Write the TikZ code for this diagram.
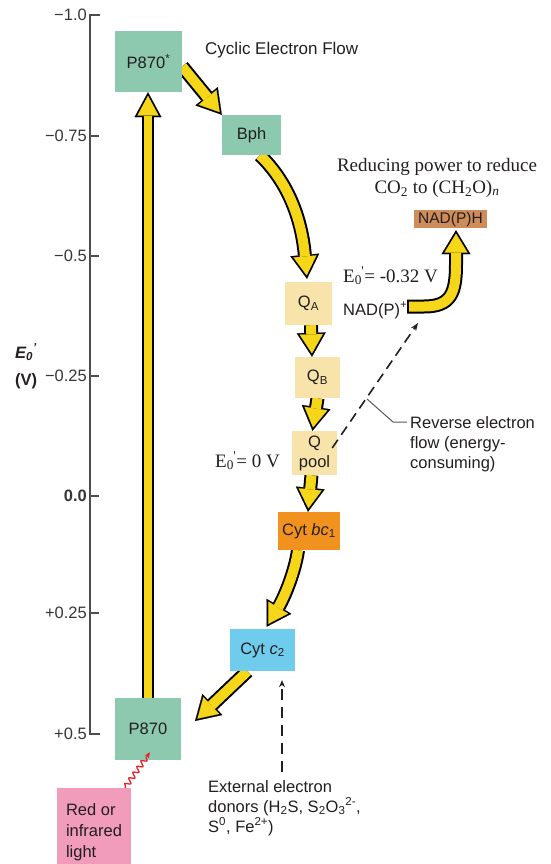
\documentclass[tikz,border=0pt]{standalone}
\usepackage{fontspec}
\setmainfont{Liberation Sans}
\newfontfamily\serifx{Liberation Serif}
\usetikzlibrary{arrows.meta,decorations.pathmorphing}
\definecolor{bgreen}{HTML}{8DC9AE}
\definecolor{qyel}{HTML}{F8E4AA}
\definecolor{borange}{HTML}{F2921E}
\definecolor{bblue}{HTML}{70CCEC}
\definecolor{bpink}{HTML}{F09CBA}
\definecolor{bbrown}{HTML}{CD8C5A}
\definecolor{ayel}{HTML}{F6D618}
\definecolor{txt}{HTML}{231F20}
\definecolor{axisc}{HTML}{4D4D4D}
\definecolor{lightred}{HTML}{E8202A}
\pgfdeclarelayer{bg}
\pgfsetlayers{bg,main}
\newcommand\Ezero{E\textsubscript{0}\kern-0.5pt\textsuperscript{'}}
\newcommand\yarr[3]{\draw[#1] #3; \draw[#2] #3;}
\begin{document}
\begin{tikzpicture}[x=1pt,y=-1pt,
  every node/.style={inner sep=0pt, text=txt},
  sans/.style={font=\fontsize{16.5}{20}\selectfont},
  serif/.style={font=\serifx\fontsize{19}{22}\selectfont},
  box/.style={sans, draw=none, align=center},
  yout/.style={line width=14pt, color=black, -{Triangle[length=24pt, width=29pt, line width=0.2pt]}},
  yin/.style={line width=10pt, color=ayel, shorten >=3.4pt, -{Triangle[length=19.1pt, width=23.1pt, line width=0.2pt]}},
  yintail/.style={yin, shorten <=2pt},
  vout/.style={line width=12.5pt, color=black, -{Triangle[length=25pt, width=27pt, line width=0.2pt]}},
  vin/.style={line width=8.5pt, color=ayel, shorten >=3.6pt, -{Triangle[length=19.8pt, width=21.2pt, line width=0.2pt]}},
  dasharrow/.style={txt, line width=1.6pt, dash pattern=on 10pt off 6pt, -{Stealth[length=8pt, width=6pt]}},
  leader/.style={txt!75, line width=1pt},
  axisline/.style={axisc, line width=2.5pt},
  ticklabel/.style={sans, anchor=east, text=txt!90}
]
\useasboundingbox (0,0) rectangle (551,864);

% axis
\draw[axisline] (100,15) -- (90,15) -- (90,734) -- (100,734);
\foreach \yy in {136,256,376,496,613} \draw[axisline, line width=2pt] (90,\yy) -- (99,\yy);
\node[ticklabel] (t1) at (87,15) {−1.0};
\node[ticklabel] (t2) at (87,136) {−0.75};
\node[ticklabel] (t3) at (87,256) {−0.5};
\node[ticklabel] (t4) at (87,376) {−0.25};
\node[ticklabel, font=\fontsize{16.5}{20}\selectfont\bfseries] (t5) at (87,496) {0.0};
\node[ticklabel] (t6) at (87,613) {+0.25};
\node[ticklabel] (t7) at (87,734) {+0.5};
\node[sans, anchor=base west, font=\fontsize{16.5}{20}\selectfont\bfseries\itshape] (elab) at (15,358) {E\textsubscript{0}\textsuperscript{'}};
\node[sans, anchor=base west, font=\fontsize{16.5}{20}\selectfont\bfseries] (vlab) at (15,385) {(V)};

% boxes
\node[box, fill=bgreen, minimum width=67pt, minimum height=61pt] (P870s) at (148.5,61.5) {P870\textsuperscript{*}};
\node[box, fill=bgreen, minimum width=59pt, minimum height=40pt] (Bph) at (251.5,135) {Bph};
\node[box, fill=qyel, minimum width=47pt, minimum height=43pt] (QA) at (308.5,303.5) {Q\textsubscript{A}};
\node[box, fill=qyel, minimum width=45pt, minimum height=41pt] (QB) at (317.5,377.5) {Q\textsubscript{B}};
\node[box, fill=qyel, minimum width=45pt, minimum height=44pt] (Qpool) at (314.5,453) {Q\\pool};
\node[box, fill=borange, minimum width=62pt, minimum height=38pt] (bc1) at (309,531) {Cyt \textit{bc}\textsubscript{1}};
\node[box, fill=bblue, minimum width=65pt, minimum height=42pt] (c2) at (262.5,650) {Cyt \textit{c}\textsubscript{2}};
\node[box, fill=bgreen, minimum width=66pt, minimum height=62pt] (P870) at (148,729) {P870};
\node[box, fill=bpink, minimum width=74pt, minimum height=88pt, align=left, font=\fontsize{16.5}{21}\selectfont] (light) at (94,832) {Red or\\infrared\\light};
\node[box, fill=bbrown, minimum width=73pt, minimum height=18pt, font=\fontsize{15.5}{18}\selectfont] (NADPH) at (450.5,219) {NAD(P)H};

% texts
\node[sans, anchor=base west, font=\fontsize{17}{20}\selectfont] (title) at (205,55) {Cyclic Electron Flow};
\node[serif, align=center, anchor=north] (reduce) at (437,158) {Reducing power to reduce\\CO\textsubscript{2} to (CH\textsubscript{2}O)\textsubscript{\textit{n}}};
\node[serif, anchor=base west] (e32) at (343,282) {\Ezero= -0.32 V};
\node[sans, anchor=base west] (NADP) at (343,315) {NAD(P)\textsuperscript{+}};
\node[serif, anchor=base west] (e0) at (215,467) {\Ezero= 0 V};
\node[sans, align=left, anchor=north west] (rev) at (410,416) {Reverse electron\\flow (energy-\\consuming)};
\node[sans, align=left, anchor=north west] (ext) at (208,780) {External electron\\donors (H\textsubscript{2}S, S\textsubscript{2}O\textsubscript{3}\textsuperscript{2-},\\S\textsuperscript{0}, Fe\textsuperscript{2+})};

% free ends
\coordinate (c2tip) at (195,721);
\coordinate (nadtail) at (407,306.5);
\coordinate (revend) at (418,323);

% white background and yellow block arrows
\begin{pgfonlayer}{bg}
\fill[white] (0,0) rectangle (551,864);
\yarr{vout}{vin}{(P870.north) -- (P870.north |- P870s.south)}
\yarr{yout}{yin}{([yshift=-5pt]P870s.east) -- (Bph.north west)}
\yarr{yout}{yin}{([xshift=8.5pt]Bph.south) .. controls (296,190) and (303,235) .. ([xshift=-1.5pt,yshift=3pt]QA.north)}
\yarr{yout}{yin}{([xshift=2.5pt]QA.south) -- ([xshift=-5.5pt]QB.north)}
\yarr{yout}{yin}{(QB.south) -- ([xshift=-2pt]Qpool.north)}
\yarr{yout}{yin}{([xshift=-3pt]Qpool.south) -- ([xshift=-1pt]bc1.north)}
\yarr{yout}{yin}{([xshift=-11pt]bc1.south) .. controls (295,572) and (284,598) .. ([xshift=4pt,yshift=2pt]c2.north)}
\yarr{yout}{yin}{([xshift=-15pt]c2.south) -- (c2tip)}
\yarr{yout}{yintail}{(nadtail) -- (424,306.5) .. controls (451,306.5) and (456,293) .. (456,264) -- ([xshift=5.5pt,yshift=-2pt]NADPH.south)}
\end{pgfonlayer}

% dashed arrows and leader
\draw[dasharrow] ([xshift=-5pt,yshift=5pt]Qpool.east) -- (revend);
\draw[leader] ([xshift=-3pt,yshift=-6pt]rev.north west) -- ++(-14,0) -- ++(-26,-23);
\draw[dasharrow, dash pattern=on 11pt off 7pt, -{Stealth[length=7pt, width=6pt]}] ([xshift=74pt,yshift=8pt]ext.north west) -- ([xshift=19.5pt,yshift=-9pt]c2.south);

% light
\draw[lightred, line width=1.3pt, decorate, decoration={snake, amplitude=2.5pt, segment length=7pt, pre length=1pt, post length=5pt}, -{Stealth[length=6pt, width=5pt]}] ([xshift=31pt]light.north) -- ([xshift=2pt,yshift=8pt]P870.south);
\end{tikzpicture}
\end{document}
